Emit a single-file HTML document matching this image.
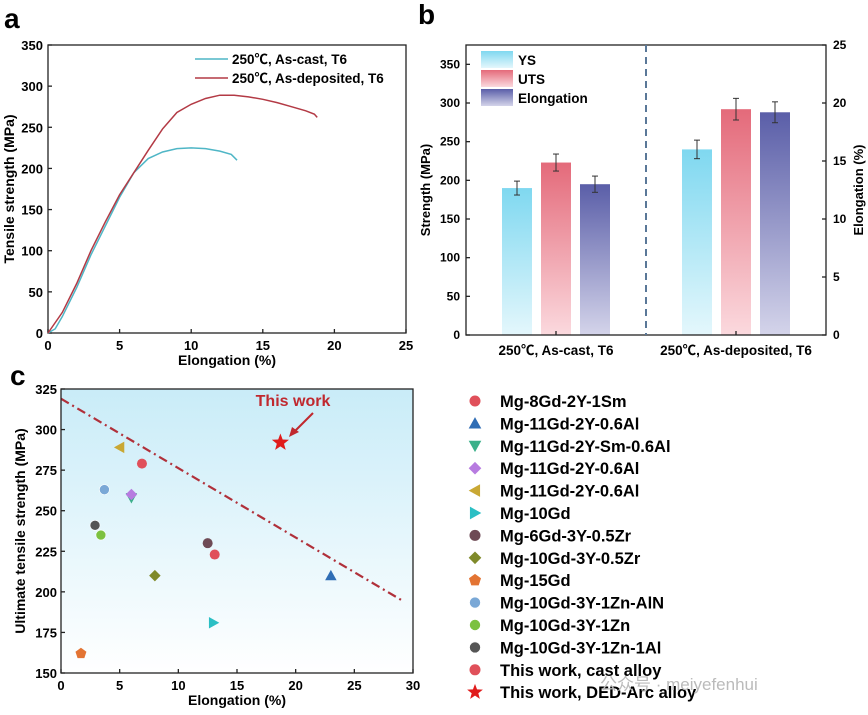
<!DOCTYPE html>
<html><head><meta charset="utf-8"><style>
body{margin:0;background:#fff}
svg{display:block;font-family:"Liberation Sans","Noto Sans CJK SC",sans-serif;font-weight:bold}
</style></head><body>
<svg id="s" width="868" height="715" viewBox="0 0 868 715" xmlns="http://www.w3.org/2000/svg">
<defs>
<linearGradient id="gc" x1="0" y1="0" x2="0" y2="1"><stop offset="0" stop-color="#c9ecf8"/><stop offset="1" stop-color="#ffffff"/></linearGradient>
<linearGradient id="gys" x1="0" y1="0" x2="0" y2="1"><stop offset="0" stop-color="#7fd8f0"/><stop offset="1" stop-color="#e4f7fc"/></linearGradient>
<linearGradient id="guts" x1="0" y1="0" x2="0" y2="1"><stop offset="0" stop-color="#e46a7a"/><stop offset="1" stop-color="#fbd9de"/></linearGradient>
<linearGradient id="gel" x1="0" y1="0" x2="0" y2="1"><stop offset="0" stop-color="#5a5ea8"/><stop offset="1" stop-color="#d4d4ea"/></linearGradient>
</defs>
<text x="4" y="28" font-size="28">a</text>
<text x="418" y="24" font-size="28">b</text>
<text x="10" y="385" font-size="28">c</text>
<g id="ga"></g>
<g id="gb"></g>
<g id="gcg"></g>
</svg>
<script>
const NS="http://www.w3.org/2000/svg";
function el(p,t,a,txt){const e=document.createElementNS(NS,t);for(const k in a)e.setAttribute(k,a[k]);if(txt!==undefined)e.textContent=txt;p.appendChild(e);return e;}
// ---------- Panel A data ----------
const aCastX=[0,0.5,1,2,3,4,5,6,7,8,9,10,11,12,12.8,13.2];
const aCastY=[0,5,20,55,95,130,165,195,212,220,224,225,224,221,217,210];
const aDepX=[0,1,2,3,4,5,6,7,8,9,10,11,12,13,14,15,16,17,18,18.6,18.8];
const aDepY=[0,25,60,100,135,168,195,222,248,268,278,285,289,289,287,284,280,275,270,266,262];
const aXTicks=[0,5,10,15,20,25];
const aYTicks=[0,50,100,150,200,250,300,350];
// ---------- Panel B data ----------
const bGroups=["250℃, As-cast, T6","250℃, As-deposited, T6"];
const bYS=[190,240];
const bUTS=[223,292];
const bElong=[13,19.2];
const bYSErr=[9,12];
const bUTSErr=[11,14];
const bElongErr=[0.7,0.9];
const bLeftTicks=[0,50,100,150,200,250,300,350];
const bRightTicks=[0,5,10,15,20,25];
// ---------- Panel C data ----------
const cNames=["Mg-8Gd-2Y-1Sm","Mg-11Gd-2Y-0.6Al","Mg-11Gd-2Y-Sm-0.6Al","Mg-11Gd-2Y-0.6Al","Mg-11Gd-2Y-0.6Al","Mg-10Gd","Mg-6Gd-3Y-0.5Zr","Mg-10Gd-3Y-0.5Zr","Mg-15Gd","Mg-10Gd-3Y-1Zn-AlN","Mg-10Gd-3Y-1Zn","Mg-10Gd-3Y-1Zn-1Al","This work, cast alloy","This work, DED-Arc alloy"];
const cElong=[6.9,23,6,6,5,13,12.5,8,1.7,3.7,3.4,2.9,13.1,18.7];
const cUTS=[279,210,258,260,289,181,230,210,162,263,235,241,223,292];
const cShapes=["circle","tri-up","tri-down","diamond","tri-left","tri-right","circle","diamond","pentagon","sphere","sphere","sphere","circle","star"];
const cColors=["#e0505a","#2f6db5","#3bb08a","#b77be0","#c9a834","#2bbfc4","#6e4a55","#7f8a2a","#e37433","#7aa8d6","#7cc140","#555","#e0505a","#e01b1b"];
const cXTicks=[0,5,10,15,20,25,30];
const cYTicks=[150,175,200,225,250,275,300,325];
const cTrendX=[0,29];
const cTrendY=[319,195];

function axisLine(g,x1,y1,x2,y2){el(g,"line",{x1,y1,x2,y2,stroke:"#222","stroke-width":1.3});}
function marker(g,shape,x,y,c,r){
  let e;
  if(shape==="circle"||shape==="sphere"){e=el(g,"circle",{cx:x,cy:y,r:r,fill:c,stroke:shape==="sphere"?"#fff":"none","stroke-width":0.6});}
  else{
    let pts;
    const s=r*1.15;
    if(shape==="tri-up")pts=[[0,-s],[s,s*0.8],[-s,s*0.8]];
    if(shape==="tri-down")pts=[[0,s],[s,-s*0.8],[-s,-s*0.8]];
    if(shape==="tri-left")pts=[[-s,0],[s*0.8,-s],[s*0.8,s]];
    if(shape==="tri-right")pts=[[s,0],[-s*0.8,-s],[-s*0.8,s]];
    if(shape==="diamond")pts=[[0,-s],[s,0],[0,s],[-s,0]];
    if(shape==="pentagon"){pts=[];for(let i=0;i<5;i++){const a=-Math.PI/2+i*2*Math.PI/5;pts.push([s*Math.cos(a),s*Math.sin(a)]);}}
    if(shape==="star"){pts=[];const R=r*1.8;for(let i=0;i<10;i++){const a=-Math.PI/2+i*Math.PI/5;const rr=i%2?R*0.42:R;pts.push([rr*Math.cos(a),rr*Math.sin(a)]);}}
    e=el(g,"polygon",{points:pts.map(p=>(x+p[0])+","+(y+p[1])).join(" "),fill:c});
  }
  return e;
}

// ---------- Panel A ----------
(function(){
  const g=document.getElementById("ga");
  const L=48,R=406,T=45,B=333;
  const sx=v=>L+v/25*(R-L), sy=v=>B-v/350*(B-T);
  const box=el(g,"rect",{x:L,y:T,width:R-L,height:B-T,fill:"none",stroke:"#222","stroke-width":1.3});
  
  aXTicks.forEach(v=>{axisLine(g,sx(v),B,sx(v),B-4);const t=el(g,"text",{x:sx(v),y:B+17,"font-size":13,"text-anchor":"middle"},v);});
  aYTicks.forEach(v=>{axisLine(g,L,sy(v),L+4,sy(v));const t=el(g,"text",{x:L-5,y:sy(v)+5,"font-size":13,"text-anchor":"end"},v);});
  const xt=el(g,"text",{x:(L+R)/2,y:B+32,"font-size":14,"text-anchor":"middle"},"Elongation (%)");
  
  const yt=el(g,"text",{x:0,y:0,"font-size":14,"text-anchor":"middle",transform:`translate(14,${(T+B)/2}) rotate(-90)`},"Tensile strength (MPa)");
  
  const c1=el(g,"polyline",{points:aCastX.map((x,i)=>sx(x)+","+sy(aCastY[i])).join(" "),fill:"none",stroke:"#4fb6c6","stroke-width":1.5});
  
  const c2=el(g,"polyline",{points:aDepX.map((x,i)=>sx(x)+","+sy(aDepY[i])).join(" "),fill:"none",stroke:"#b33a45","stroke-width":1.5});
  
  const l1=el(g,"line",{x1:195,y1:59,x2:228,y2:59,stroke:"#4fb6c6","stroke-width":1.5});
  
  el(g,"text",{x:232,y:64,"font-size":13.5},"250℃, As-cast, T6");
  const l2=el(g,"line",{x1:195,y1:78,x2:228,y2:78,stroke:"#b33a45","stroke-width":1.5});
  
  el(g,"text",{x:232,y:83,"font-size":13.5},"250℃, As-deposited, T6");
})();

// ---------- Panel B ----------
(function(){
  const g=document.getElementById("gb");
  const L=466,R=826,T=45,B=335;
  const sy=v=>B-v/375*(B-T), sy2=v=>B-v/25*(B-T);
  const groupX=[502,682], off=[0,39,78], bw=30;
  bGroups.forEach((name,i)=>{
    const x0=groupX[i];
    const vals=[[bYS[i],sy(bYS[i]),bYSErr[i]/375*(B-T),"url(#gys)","ys-bar"],[bUTS[i],sy(bUTS[i]),bUTSErr[i]/375*(B-T),"url(#guts)","uts-bar"],[bElong[i],sy2(bElong[i]),bElongErr[i]/25*(B-T),"url(#gel)","elongation-bar"]];
    vals.forEach((v,j)=>{
      const x=x0+off[j];
      const r=el(g,"rect",{x:x,y:v[1],width:bw,height:B-v[1],fill:v[3]});
      
      const cx=x+bw/2;
      el(g,"line",{x1:cx,y1:v[1]-v[2],x2:cx,y2:v[1]+v[2],stroke:"#333","stroke-width":1});
      el(g,"line",{x1:cx-3,y1:v[1]-v[2],x2:cx+3,y2:v[1]-v[2],stroke:"#333","stroke-width":1});
      el(g,"line",{x1:cx-3,y1:v[1]+v[2],x2:cx+3,y2:v[1]+v[2],stroke:"#333","stroke-width":1});
    });
    const t=el(g,"text",{x:x0+off[1]+bw/2,y:B+20,"font-size":13.5,"text-anchor":"middle"},name);
    
    axisLine(g,x0+off[1]+bw/2,B,x0+off[1]+bw/2,B-4);
  });
  const box=el(g,"rect",{x:L,y:T,width:R-L,height:B-T,fill:"none",stroke:"#222","stroke-width":1.3});
  
  const dv=el(g,"line",{x1:646,y1:T,x2:646,y2:B,stroke:"#5a7898","stroke-width":2,"stroke-dasharray":"7,5"});
  
  bLeftTicks.forEach(v=>{axisLine(g,L,sy(v),L+4,sy(v));const t=el(g,"text",{x:L-6,y:sy(v)+4,"font-size":12,"text-anchor":"end"},v);});
  bRightTicks.forEach(v=>{axisLine(g,R,sy2(v),R-4,sy2(v));const t=el(g,"text",{x:R+7,y:sy2(v)+4,"font-size":12},v);});
  const yt=el(g,"text",{x:0,y:0,"font-size":13,"text-anchor":"middle",transform:`translate(430,${(T+B)/2}) rotate(-90)`},"Strength (MPa)");
  
  const yt2=el(g,"text",{x:0,y:0,"font-size":13,"text-anchor":"middle",transform:`translate(863,${(T+B)/2}) rotate(-90)`},"Elongation (%)");
  
  [["YS","url(#gys)"],["UTS","url(#guts)"],["Elongation","url(#gel)"]].forEach((l,i)=>{
    const y=51+i*19;
    const r=el(g,"rect",{x:481,y:y,width:32,height:17,fill:l[1]});
    
    const t=el(g,"text",{x:518,y:y+14,"font-size":13.5},l[0]);
    
  });
})();

// ---------- Panel C ----------
(function(){
  const g=document.getElementById("gcg");
  const L=61,R=413,T=389,B=673;
  const sx=v=>L+v/30*(R-L), sy=v=>B-(v-150)/175*(B-T);
  el(g,"rect",{x:L,y:T,width:R-L,height:B-T,fill:"url(#gc)"});
  const tl=el(g,"line",{x1:sx(cTrendX[0]),y1:sy(cTrendY[0]),x2:sx(cTrendX[1]),y2:sy(cTrendY[1]),stroke:"#b0303a","stroke-width":2.2,"stroke-dasharray":"9,4,2,4"});
  
  cElong.forEach((x,i)=>{
    const m=marker(g,cShapes[i],sx(x),sy(cUTS[i]),cColors[i],5);
    
  });
  const box=el(g,"rect",{x:L,y:T,width:R-L,height:B-T,fill:"none",stroke:"#222","stroke-width":1.3});
  
  cXTicks.forEach(v=>{axisLine(g,sx(v),B,sx(v),B-4);const t=el(g,"text",{x:sx(v),y:B+17,"font-size":13,"text-anchor":"middle"},v);});
  cYTicks.forEach(v=>{axisLine(g,L,sy(v),L+4,sy(v));const t=el(g,"text",{x:L-4,y:sy(v)+5,"font-size":13,"text-anchor":"end"},v);});
  const xt=el(g,"text",{x:(L+R)/2,y:B+32,"font-size":14,"text-anchor":"middle"},"Elongation (%)");
  
  const yt=el(g,"text",{x:0,y:0,"font-size":14,"text-anchor":"middle",transform:`translate(25,${(T+B)/2}) rotate(-90)`},"Ultimate tensile strength (MPa)");
  
  const tw=el(g,"text",{x:293,y:406,"font-size":16,fill:"#c0282e","text-anchor":"middle"},"This work");
  
  el(g,"line",{x1:313,y1:413,x2:294,y2:432,stroke:"#c0282e","stroke-width":2});
  el(g,"polygon",{points:"289,437 292,427 299,432",fill:"#c0282e"});
  cNames.forEach((n,i)=>{
    const y=401+i*22.4;
    const m=marker(g,cShapes[i],475,y,cColors[i],cShapes[i]==="star"?4.6:5.5);
    
    const t=el(g,"text",{x:500,y:y+6,"font-size":16.5},n);
    
  });
  el(g,"text",{x:600,y:690,"font-size":17,fill:"#bbb","font-weight":"normal"},"公众号 · meiyefenhui");
})();
</script>
</body></html>
